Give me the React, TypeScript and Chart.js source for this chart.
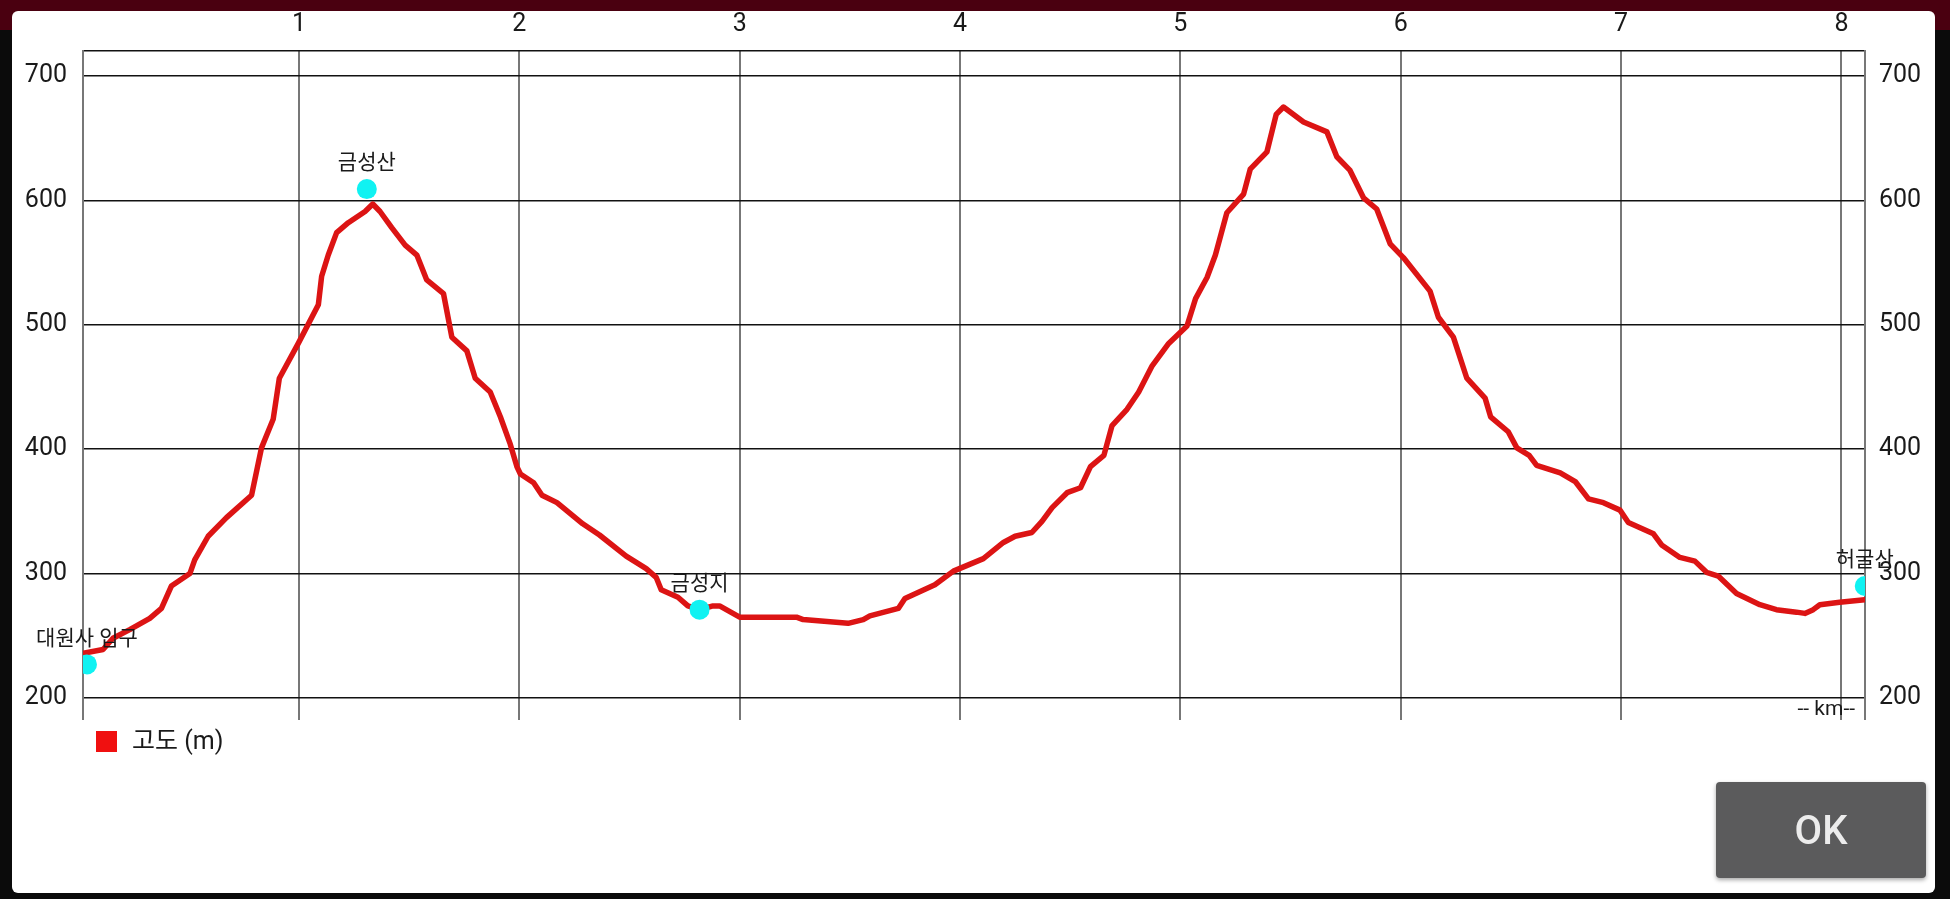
import { useEffect, useRef } from "react";
import { Chart, registerables } from "chart.js";

Chart.register(...registerables);

// ---- data ----
const distanceKm = [
  0.02, 0.111, 0.156, 0.232, 0.323, 0.376, 0.421, 0.505, 0.527, 0.588, 0.671, 0.785, 0.83, 0.883, 0.911,
  0.997, 1.088, 1.103, 1.133, 1.171, 1.224, 1.3, 1.335, 1.368, 1.421, 1.482, 1.535, 1.58, 1.656, 1.694,
  1.762, 1.8, 1.868, 1.914, 1.959, 1.989, 2.005, 2.065, 2.103, 2.171, 2.288, 2.364, 2.485, 2.576, 2.621,
  2.644, 2.72, 2.765, 2.818, 2.879, 2.909, 3.0, 3.258, 3.288, 3.492, 3.561, 3.591, 3.72, 3.75, 3.886,
  3.97, 4.106, 4.197, 4.25, 4.326, 4.372, 4.418, 4.486, 4.547, 4.592, 4.653, 4.69, 4.758, 4.811, 4.872,
  4.947, 5.03, 5.069, 5.121, 5.159, 5.211, 5.287, 5.317, 5.393, 5.435, 5.468, 5.559, 5.665, 5.71, 5.77,
  5.831, 5.891, 5.952, 6.012, 6.133, 6.171, 6.239, 6.3, 6.383, 6.408, 6.488, 6.527, 6.583, 6.617, 6.724,
  6.792, 6.852, 6.92, 6.995, 7.033, 7.147, 7.184, 7.267, 7.335, 7.388, 7.441, 7.524, 7.63, 7.705, 7.796,
  7.834, 7.872, 7.902, 7.992, 8.106,
];
const elevationM = [
  236, 239, 248, 255, 264, 272, 290, 300, 311, 330, 345, 363, 401, 424, 457,
  485, 516, 539, 556, 574, 582, 591, 597, 591, 578, 564, 556, 536, 525, 490,
  479, 457, 446, 426, 404, 386, 380, 373, 363, 357, 340, 331, 314, 304, 297,
  287, 281, 274, 271, 274, 274, 265, 265, 263, 260, 263, 266, 272, 280, 291,
  302, 312, 325, 330, 333, 342, 353, 365, 369, 386, 395, 419, 432, 446, 467,
  485, 499, 521, 538, 556, 590, 605, 625, 639, 669, 675, 663, 655, 635, 624,
  602, 593, 565, 554, 527, 506, 490, 457, 441, 426, 414, 401, 395, 387, 381,
  374, 360, 357, 351, 341, 332, 323, 313, 310, 301, 298, 284, 275, 271, 269,
  268, 271, 275, 277, 279,
];
const waypointNames = ["대원사 입구", "금성산", "금성지", "허굴산"];
const waypointKm = [0.038, 1.308, 2.818, 8.106];
const waypointElev = [227, 609, 271, 290];
const kmTicks = [1, 2, 3, 4, 5, 6, 7, 8];
const elevTicks = [200, 300, 400, 500, 600, 700];
const kmRange = [0.02, 8.107];
const elevRange = [200, 720];
const seriesLabel = "고도 (m)";
const axisUnitLabel = "-- km--";
const buttonLabel = "OK";

const FONT = 'Roboto, "Noto Sans CJK KR", sans-serif';
const LINE_COLOR = "#dc1414";
const MARKER_COLOR = "#10f2f2";
const TEXT_COLOR = "#1a1a1a";

const overlayPlugin = {
  id: "overlay",
  afterDatasetsDraw(chart: any) {
    const ctx = chart.ctx;
    const ca = chart.chartArea;
    ctx.save();
    // waypoint names
    const meta = chart.getDatasetMeta(1);
    ctx.font = `21px ${FONT}`;
    ctx.fillStyle = TEXT_COLOR;
    ctx.textAlign = "center";
    ctx.textBaseline = "middle";
    meta.data.forEach((pt: any, i: number) => {
      ctx.fillText(waypointNames[i], pt.x, pt.y - 25);
    });
    // unit label
    ctx.font = `21px ${FONT}`;
    ctx.textAlign = "right";
    ctx.fillText(axisUnitLabel, ca.right - 10, ca.bottom + 12);
    // legend
    ctx.fillStyle = "#f01010";
    ctx.fillRect(ca.left + 13, ca.bottom + 33, 21, 21);
    ctx.font = `25px ${FONT}`;
    ctx.textAlign = "left";
    ctx.fillStyle = TEXT_COLOR;
    ctx.fillText(seriesLabel, ca.left + 49, ca.bottom + 45);
    ctx.restore();
  },
};

export default function App() {
  const canvasRef = useRef<HTMLCanvasElement | null>(null);

  useEffect(() => {
    document.body.style.margin = "0";
    const canvas = canvasRef.current;
    if (!canvas) return;
    const lineData = distanceKm.map((x, i) => ({ x, y: elevationM[i] }));
    const markerData = waypointKm.map((x, i) => ({ x, y: waypointElev[i] }));
    const tickFont = { family: FONT, size: 25 };

    const chart = new Chart(canvas, {
      type: "line",
      data: {
        datasets: [
          {
            label: seriesLabel,
            data: lineData,
            borderColor: LINE_COLOR,
            backgroundColor: LINE_COLOR,
            borderWidth: 5.5,
            pointRadius: 0,
            tension: 0,
            borderJoinStyle: "round",
            borderCapStyle: "round",
            fill: false,
            order: 2,
            xAxisID: "x",
            yAxisID: "y",
          },
          {
            label: "waypoints",
            data: markerData,
            showLine: false,
            pointRadius: 10,
            pointBackgroundColor: MARKER_COLOR,
            pointBorderWidth: 0,
            borderWidth: 0,
            order: 1,
            xAxisID: "x",
            yAxisID: "y",
          },
        ],
      },
      options: {
        responsive: false,
        maintainAspectRatio: false,
        animation: false,
        layout: { padding: 0 },
        plugins: { legend: { display: false }, tooltip: { enabled: false } },
        scales: {
          x: {
            type: "linear",
            position: "bottom",
            min: kmRange[0],
            max: kmRange[1],
            afterBuildTicks: (s: any) => {
              s.ticks = [kmRange[0], ...kmTicks, kmRange[1]].map((v) => ({ value: v }));
            },
            afterFit: (s: any) => {
              s.height = 201;
            },
            ticks: { display: false },
            grid: { color: "#777", lineWidth: 2, drawTicks: true, tickLength: 22 },
            border: { display: false },
          },
          xTop: {
            type: "linear",
            position: "top",
            min: kmRange[0],
            max: kmRange[1],
            afterBuildTicks: (s: any) => {
              s.ticks = kmTicks.map((v) => ({ value: v }));
            },
            afterFit: (s: any) => {
              s.height = 51;
            },
            ticks: { color: TEXT_COLOR, font: tickFont, padding: 11, autoSkip: false, maxRotation: 0 },
            grid: { display: false, drawTicks: false },
            border: { display: true, color: "#111", width: 1.5 },
          },
          y: {
            type: "linear",
            position: "left",
            min: elevRange[0],
            max: elevRange[1],
            afterBuildTicks: (s: any) => {
              s.ticks = elevTicks.map((v) => ({ value: v }));
            },
            afterFit: (s: any) => {
              s.width = 83;
            },
            ticks: { color: TEXT_COLOR, font: tickFont, padding: 16 },
            grid: { color: "#111", lineWidth: 1.5, drawTicks: false },
            border: { display: true, color: "#777", width: 2 },
          },
          y2: {
            type: "linear",
            position: "right",
            min: elevRange[0],
            max: elevRange[1],
            afterBuildTicks: (s: any) => {
              s.ticks = elevTicks.map((v) => ({ value: v }));
            },
            afterFit: (s: any) => {
              s.width = 85;
            },
            ticks: { color: TEXT_COLOR, font: tickFont, padding: 14 },
            grid: { display: false, drawTicks: false },
            border: { display: true, color: "#777", width: 2 },
          },
        },
      },
      plugins: [overlayPlugin],
    } as any);

    return () => chart.destroy();
  }, []);

  return (
    <div style={{ position: "fixed", left: 0, top: 0, width: 1950, height: 899, background: "#0b0b0b", overflow: "hidden" }}>
      <div style={{ position: "absolute", left: 0, top: 0, width: 1950, height: 30, background: "#4a0010" }} />
      <div
        style={{
          position: "absolute",
          left: 12,
          top: 11,
          width: 1923,
          height: 882,
          background: "#ffffff",
          borderRadius: 6,
        }}
      />
      <canvas
        ref={canvasRef}
        width={1950}
        height={899}
        style={{ position: "absolute", left: 0, top: 0, width: 1950, height: 899 }}
      />
      <div
        style={{
          position: "absolute",
          left: 1716,
          top: 782,
          width: 210,
          height: 96,
          background: "#5b5b5c",
          borderRadius: 4,
          color: "#ececec",
          fontFamily: FONT,
          fontWeight: 500,
          fontSize: 40,
          display: "flex",
          alignItems: "center",
          justifyContent: "center",
          boxShadow: "0 2px 4px rgba(0,0,0,0.35)",
        }}
      >
        {buttonLabel}
      </div>
    </div>
  );
}
